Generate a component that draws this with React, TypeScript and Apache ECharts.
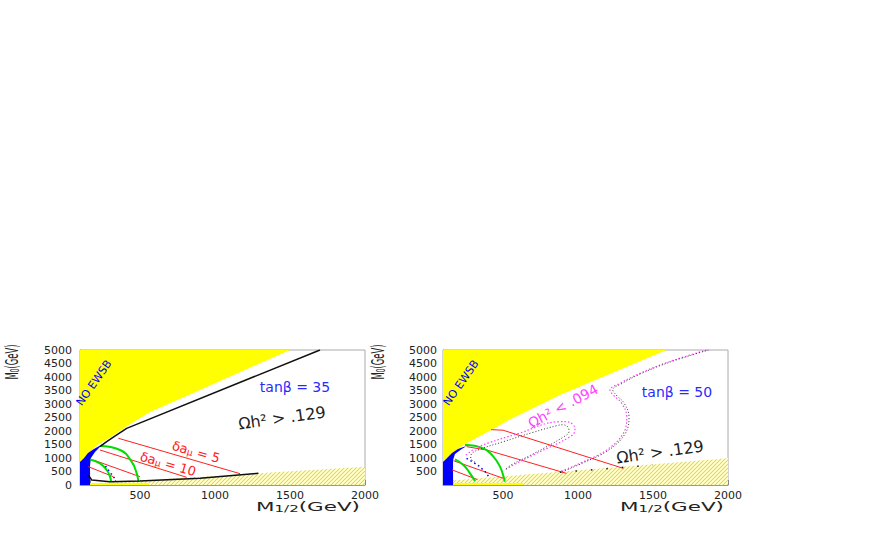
import React, { useEffect, useRef } from 'react';
import * as echarts from 'echarts';

type P = [number, number];

// ---- axes ----
const xLabelValues = [500, 1000, 1500, 2000];
const xTickValues = [166.7, 333.3, 500, 666.7, 833.3, 1000, 1166.7, 1333.3, 1500, 1666.7, 1833.3, 2000];

// ---- left panel: tan(beta) = 35 ----
const L_noEwsb: P[] = [[100, 5000], [1500, 5000], [811, 3300], [567, 2700], [420, 2200], [300, 1750], [233, 1540], [160, 1200], [127, 1000], [100, 852]];
const L_blue: P[] = [[100, 0], [100, 852], [127, 1000], [153, 1185], [193, 1333], [240, 1481], [273, 1593], [233, 1407], [200, 1222], [173, 1000], [167, 741], [167, 0]];
const L_hatch: P[] = [[100, 0], [100, 40], [1289, 433], [2000, 680], [2000, 0]];
const L_strip: P[] = [[100, 0], [100, 70], [560, 70], [560, 0]];
const L_blackUpper: P[] = [[233, 1420], [278, 1604], [330, 1800], [411, 2099], [1700, 5000]];
const L_blackLower: P[] = [[155, 370], [178, 185], [300, 122], [500, 150], [900, 250], [1289, 433]];
const L_greenBig: P[] = [[233, 1444], [367, 1296], [444, 863], [478, 433], [489, 122]];
const L_greenSmall: P[] = [[167, 948], [233, 800], [278, 556], [300, 307], [307, 122]];
const L_red5: P[] = [[356, 1730], [1167, 420]];
const L_red10: P[] = [[233, 1296], [811, 285]];
const L_red20: P[] = [[189, 926], [500, 307]];
const L_red30: P[] = [[155, 680], [322, 307]];
const L_higgs: P[] = [[270, 700], [290, 550], [310, 400], [330, 250]];

// ---- right panel: tan(beta) = 50 ----
const R_noEwsb: P[] = [[100, 5000], [1591, 5000], [880, 3333], [527, 2370], [447, 2111], [260, 1556], [200, 1333], [127, 1000], [100, 852]];
const R_blue: P[] = [[100, 0], [100, 852], [127, 1000], [160, 1185], [200, 1333], [240, 1420], [253, 1430], [220, 1315], [180, 1148], [167, 926], [167, 0]];
const R_hatch: P[] = [[100, 0], [100, 140], [880, 493], [2000, 990], [2000, 0]];
const R_strip: P[] = [[100, 0], [100, 70], [633, 70], [633, 0]];
const R_greenBig: P[] = [[247, 1481], [369, 1358], [436, 1049], [480, 679], [507, 247], [511, 120]];
const R_greenSmall: P[] = [[180, 952], [236, 741], [280, 432], [313, 150]];
const R_red1: P[] = [[420, 2050], [500, 2030], [1302, 617]];
const R_red2: P[] = [[257, 1420], [391, 1296], [922, 432]];
const R_red3: P[] = [[169, 900], [502, 247]];
const R_red4: P[] = [[160, 560], [330, 200]];
const R_magOuter: P[] = [[1858, 5000], [1600, 4550], [1413, 4136], [1280, 3767], [1213, 3519], [1235, 3333], [1291, 3026], [1325, 2530], [1302, 1915], [1191, 1296], [1013, 804], [880, 493]];
const R_blkOuter: P[] = [[1870, 5000], [1612, 4550], [1425, 4136], [1295, 3767], [1232, 3519], [1255, 3333], [1308, 3026], [1340, 2530], [1316, 1915], [1205, 1296], [1027, 804], [895, 493]];
const R_magInner: P[] = [[253, 1111], [300, 1300], [400, 1550], [600, 1900], [880, 2344], [925, 2344], [969, 2222], [980, 2037], [947, 1789], [725, 1174], [569, 741], [513, 556]];
const R_blkInner: P[] = [[313, 850], [285, 1000], [290, 1150], [350, 1330], [500, 1600], [700, 1950], [860, 2200], [900, 2230], [935, 2130], [940, 1980], [910, 1800], [700, 1150], [560, 760], [520, 600]];
const R_higgs: P[] = [[257, 988], [300, 850], [340, 700], [380, 500], [413, 247]];
const R_stauDots: P[] = [[880, 470], [1500, 740]];

const FONT = 'DejaVu Sans';
const YELLOW = '#ffff00';
const BLUE = '#0000ff';
const GREEN = '#00dd00';
const RED = '#ff2020';
const MAGENTA = '#ff44ff';

const HATCH_SVG =
  '<svg xmlns="http://www.w3.org/2000/svg" width="4" height="4">' +
  '<rect width="4" height="4" fill="#ffffff"/>' +
  '<path d="M-1 5L5 -1M3 5L5 3M-1 1L1 -1" stroke="#ece000" stroke-width="1.1"/></svg>';

function makeHatch(): any {
  return {
    image: 'data:image/svg+xml;charset=utf-8,' + encodeURIComponent(HATCH_SVG),
    repeat: 'repeat',
    imageWidth: 4,
    imageHeight: 4,
  };
}

function poly(pts: P[], fill: any, idx: number, z: number) {
  return {
    type: 'custom',
    xAxisIndex: idx,
    yAxisIndex: idx,
    clip: true,
    silent: true,
    z,
    data: pts,
    renderItem: (params: any, api: any) => {
      if (params.dataIndex !== 0) return { type: 'group', children: [] };
      return {
        type: 'polygon',
        shape: { points: pts.map((p) => api.coord(p)) },
        style: { fill, stroke: null },
      };
    },
  };
}

function line(pts: P[], color: string, width: number, idx: number, type: any = 'solid', smooth: any = false, z = 5) {
  return {
    type: 'line',
    data: pts,
    xAxisIndex: idx,
    yAxisIndex: idx,
    showSymbol: false,
    symbol: 'none',
    smooth,
    clip: true,
    silent: true,
    z,
    lineStyle: { color, width, type },
  };
}

function xAxis(idx: number) {
  return {
    type: 'value',
    gridIndex: idx,
    min: 100,
    max: 2000,
    axisLine: { show: true, lineStyle: { color: '#999', width: 1 } },
    axisTick: { show: true, inside: true, length: 5, lineStyle: { color: '#888' }, customValues: xTickValues },
    axisLabel: { customValues: xLabelValues, fontFamily: FONT, fontSize: 11, color: '#222', margin: 5, formatter: (v: number) => String(Math.round(v)) },
    splitLine: { show: false },
  };
}

function yAxis(idx: number, hideZero: boolean) {
  return {
    type: 'value',
    gridIndex: idx,
    min: 0,
    max: 5000,
    interval: 500,
    axisLine: { show: true, lineStyle: { color: '#999', width: 1 } },
    axisTick: { show: false },
    axisLabel: {
      fontFamily: FONT,
      fontSize: 11,
      color: '#222',
      margin: idx === 0 ? 8 : 6,
      formatter: (v: number) => (hideZero && v === 0 ? '' : String(v)),
    },
    splitLine: { show: false },
  };
}

function txt(x: number, y: number, text: string, fill: string, size: number, rot = 0, extra: any = {}) {
  return {
    type: 'text',
    x,
    y,
    rotation: rot,
    z: 100,
    silent: true,
    ...extra,
    style: { text, fill, font: `${size}px "${FONT}"`, align: 'center', verticalAlign: 'middle' },
  };
}

export default function App() {
  const ref = useRef<HTMLDivElement>(null);
  useEffect(() => {
    if (!ref.current) return;
    const chart = echarts.init(ref.current, undefined, { renderer: 'svg' });
    const hatch = makeHatch();
    const deg = Math.PI / 180;
    const subRich = (size: number, color: string) => ({
      m: { fontSize: size, fontFamily: FONT, fill: color, color },
      s: { fontSize: size * 0.7, fontFamily: FONT, fill: color, color, verticalAlign: 'bottom' },
    });
    const yTitle = (x: number) => ({
      type: 'text', x, y: 362, rotation: Math.PI / 2, scaleX: 0.56, scaleY: 1.15, z: 100, silent: true,
      style: { text: '{m|M}{s|0}{m|(GeV)}', rich: subRich(15, '#222'), align: 'center', verticalAlign: 'middle' },
    });
    const xTitle = (x: number) => ({
      type: 'text', x, y: 507, z: 100, silent: true, scaleX: 1.65,
      style: { text: '{m|M}{s|1/2}{m|(GeV)}', rich: subRich(13, '#222'), align: 'center', verticalAlign: 'middle' },
    });
    chart.setOption({
      animation: false,
      backgroundColor: '#ffffff',
      grid: [
        { left: 80, top: 350, width: 285, height: 135, show: true, borderColor: '#aaa', borderWidth: 1, backgroundColor: 'transparent' },
        { left: 443, top: 350, width: 285, height: 135, show: true, borderColor: '#aaa', borderWidth: 1, backgroundColor: 'transparent' },
      ],
      xAxis: [xAxis(0), xAxis(1)],
      yAxis: [yAxis(0, false), yAxis(1, true)],
      series: [
        // left panel
        poly(L_hatch, hatch, 0, 1),
        poly(L_strip, YELLOW, 0, 2),
        poly(L_noEwsb, YELLOW, 0, 2),
        poly(L_blue, BLUE, 0, 3),
        line(L_red5, RED, 1, 0),
        line(L_red10, RED, 1, 0),
        line(L_red20, RED, 1, 0),
        line(L_red30, RED, 1, 0),
        line(L_greenBig, GREEN, 2, 0, 'solid', 0.5, 6),
        line(L_greenSmall, GREEN, 2, 0, 'solid', 0.5, 6),
        line(L_blackUpper, '#111', 1.5, 0, 'solid', false, 7),
        line(L_blackLower, '#111', 1.5, 0, 'solid', false, 7),
        line(L_higgs, BLUE, 1.5, 0, [1.5, 3], false, 7),
        // right panel
        poly(R_hatch, hatch, 1, 1),
        poly(R_strip, YELLOW, 1, 2),
        poly(R_noEwsb, YELLOW, 1, 2),
        poly(R_blue, BLUE, 1, 3),
        line(R_red1, RED, 1, 1),
        line(R_red2, RED, 1, 1),
        line(R_red3, RED, 1, 1),
        line(R_red4, RED, 1, 1),
        line(R_greenBig, GREEN, 2, 1, 'solid', 0.5, 6),
        line(R_greenSmall, GREEN, 2, 1, 'solid', 0.5, 6),
        line(R_magOuter, MAGENTA, 1.2, 1, [1.5, 2], 0.4, 7),
        line(R_blkOuter, '#333', 1, 1, [1, 2], 0.4, 7),
        line(R_magInner, MAGENTA, 1.2, 1, [1.5, 2], 0.4, 7),
        line(R_blkInner, '#333', 1, 1, [1, 2], 0.4, 7),
        line(R_higgs, BLUE, 1.5, 1, [1.5, 3], false, 7),
        line(R_stauDots, '#222', 1.5, 1, [1.5, 14], false, 7),
      ],
      graphic: [
        yTitle(12),
        yTitle(378),
        xTitle(308),
        xTitle(672),
        // left panel annotations
        txt(94, 383, 'NO EWSB', BLUE, 11, 55 * deg),
        txt(295, 387, 'tanβ = 35', '#2a2aff', 14),
        txt(282, 418, 'Ωh² > .129', '#222', 16, 8 * deg),
        {
          type: 'text', x: 196, y: 452, rotation: -16 * deg, z: 100, silent: true,
          style: { text: '{m|δa}{s|μ}{m| = 5}', rich: subRich(13, RED), align: 'center', verticalAlign: 'middle' },
        },
        {
          type: 'text', x: 168, y: 464, rotation: -16 * deg, z: 100, silent: true,
          style: { text: '{m|δa}{s|μ}{m| = 10}', rich: subRich(13, RED), align: 'center', verticalAlign: 'middle' },
        },
        // right panel annotations
        txt(461, 383, 'NO EWSB', BLUE, 11, 55 * deg),
        txt(677, 392, 'tanβ = 50', '#2a2aff', 14),
        txt(660, 452, 'Ωh² > .129', '#222', 16, 8 * deg),
        txt(563, 406, 'Ωh² < .094', MAGENTA, 14, 28 * deg),
      ],
    });
    return () => chart.dispose();
  }, []);
  return <div ref={ref} style={{ position: 'absolute', left: 0, top: 0, width: 872, height: 545 }} />;
}
